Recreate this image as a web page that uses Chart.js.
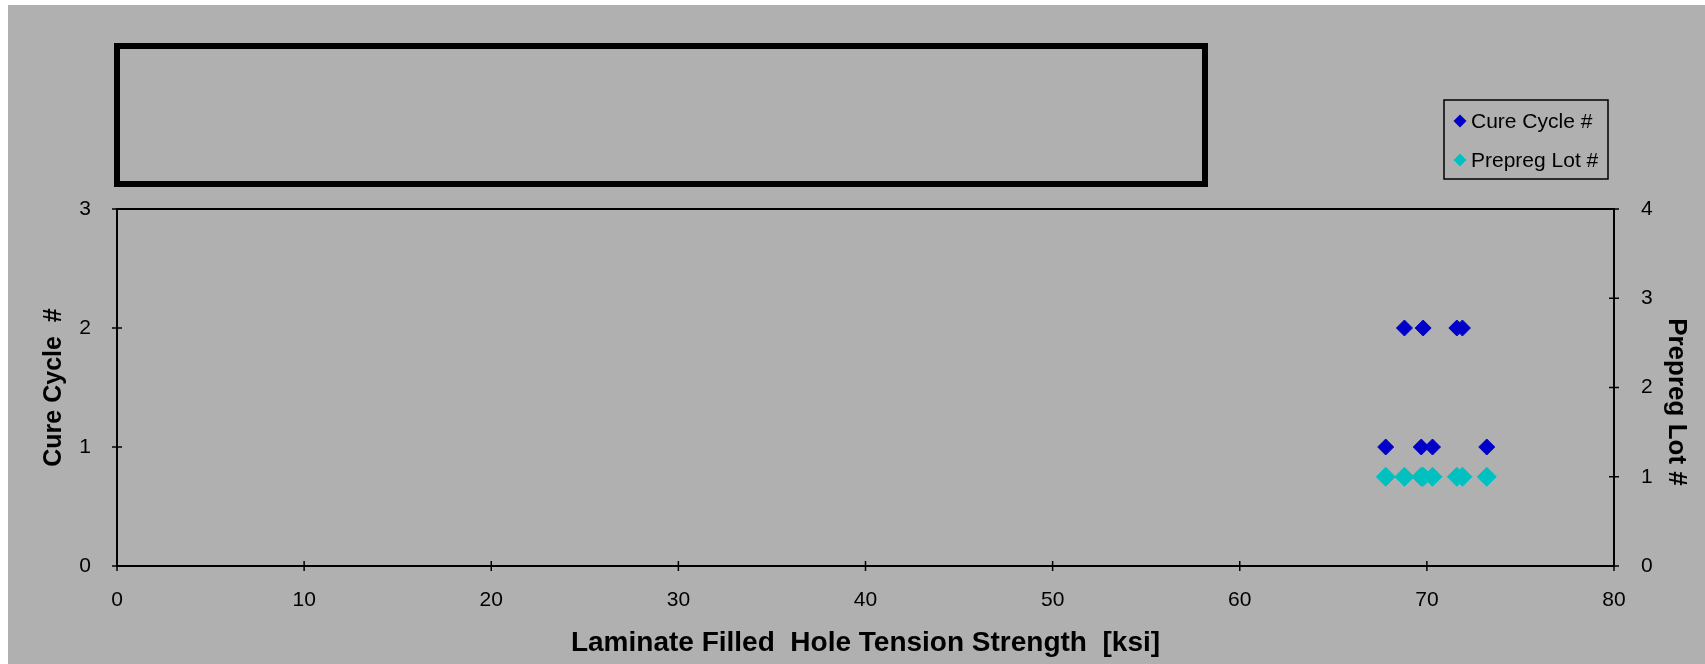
<!DOCTYPE html>
<html>
<head>
<meta charset="utf-8">
<script src="https://cdn.jsdelivr.net/npm/chart.js@4.4.1/dist/chart.umd.min.js"></script>
<style>
  html, body { margin: 0; padding: 0; background: #ffffff; }
  #wrap { position: absolute; left: 8px; top: 5px; width: 1697px; height: 659px; background: #b0b0b0; }
</style>
</head>
<body>
<div id="wrap"><canvas id="chart" width="1697" height="659"></canvas></div>
<script>
// values
const strength = [67.8, 68.8, 69.7, 69.8, 70.3, 71.6, 71.9, 73.2];
const cureCycle = [1, 2, 1, 2, 1, 2, 2, 1];
const prepregLot = [1, 1, 1, 1, 1, 1, 1, 1];
const xTicks = [0, 10, 20, 30, 40, 50, 60, 70, 80];
const cureTicks = [0, 1, 2, 3];
const lotTicks = [0, 1, 2, 3, 4];

const FONT = 'Arial, "Liberation Sans", sans-serif';
const BLUE = '#0000c8';
const TEAL = '#00c0c0';

const toPoints = (xs, ys) => xs.map((x, i) => ({ x: x, y: ys[i] }));

// empty title frame, legend, top border and cross ticks
const decor = {
  id: 'decor',
  afterDraw(chart) {
    const ctx = chart.ctx;
    const area = chart.chartArea;
    const { x, y, y2 } = chart.scales;
    ctx.save();
    ctx.strokeStyle = '#000';

    // title frame
    ctx.lineWidth = 6;
    ctx.strokeRect(109, 41, 1088, 138);

    // top border of plot area
    ctx.lineWidth = 2;
    ctx.beginPath();
    ctx.moveTo(area.left, area.top);
    ctx.lineTo(area.right, area.top);
    ctx.stroke();

    // ticks crossing the axes
    ctx.lineWidth = 1.5;
    ctx.beginPath();
    xTicks.forEach(v => {
      const px = x.getPixelForValue(v);
      ctx.moveTo(px, area.bottom - 5);
      ctx.lineTo(px, area.bottom + 5);
    });
    cureTicks.forEach(v => {
      const py = y.getPixelForValue(v);
      ctx.moveTo(area.left - 5, py);
      ctx.lineTo(area.left + 5, py);
    });
    lotTicks.forEach(v => {
      const py = y2.getPixelForValue(v);
      ctx.moveTo(area.right - 5, py);
      ctx.lineTo(area.right + 5, py);
    });
    ctx.stroke();

    // legend
    ctx.lineWidth = 1.5;
    ctx.strokeRect(1436, 95, 164, 79);
    ctx.font = '21px ' + FONT;
    ctx.textBaseline = 'middle';
    chart.data.datasets.forEach((ds, i) => {
      const cy = 116 + i * 39;
      ctx.fillStyle = ds.backgroundColor;
      ctx.beginPath();
      ctx.moveTo(1452 - 6.5, cy);
      ctx.lineTo(1452, cy - 6.5);
      ctx.lineTo(1452 + 6.5, cy);
      ctx.lineTo(1452, cy + 6.5);
      ctx.closePath();
      ctx.fill();
      ctx.fillStyle = '#000';
      ctx.fillText(ds.label, 1463, cy + 1);
    });
    ctx.restore();
  }
};

new Chart(document.getElementById('chart'), {
  type: 'scatter',
  data: {
    datasets: [
      {
        label: 'Cure Cycle #',
        data: toPoints(strength, cureCycle),
        yAxisID: 'y',
        pointStyle: 'rectRot',
        pointRadius: 8,
        borderWidth: 1,
        backgroundColor: BLUE,
        borderColor: BLUE
      },
      {
        label: 'Prepreg Lot #',
        data: toPoints(strength, prepregLot),
        yAxisID: 'y2',
        pointStyle: 'rectRot',
        pointRadius: 9.5,
        borderWidth: 1,
        backgroundColor: TEAL,
        borderColor: TEAL
      }
    ]
  },
  options: {
    responsive: false,
    animation: false,
    layout: { padding: { top: 204, left: 0, right: 0, bottom: 0 } },
    plugins: { legend: { display: false }, tooltip: { enabled: false } },
    scales: {
      x: {
        type: 'linear',
        min: 0,
        max: 80,
        afterBuildTicks: s => { s.ticks = xTicks.map(v => ({ value: v })); },
        afterFit: s => { s.height = 98; },
        grid: { display: false },
        border: { display: true, color: '#000', width: 2 },
        ticks: { color: '#000', padding: 14, font: { family: FONT, size: 21 } },
        title: {
          display: true,
          text: 'Laminate Filled  Hole Tension Strength  [ksi]',
          color: '#000',
          padding: { top: 0, bottom: 4 },
          font: { family: FONT, size: 28, weight: 'bold' }
        }
      },
      y: {
        type: 'linear',
        position: 'left',
        min: 0,
        max: 3,
        afterBuildTicks: s => { s.ticks = cureTicks.map(v => ({ value: v })); },
        afterFit: s => { s.width = 109; },
        grid: { display: false },
        border: { display: true, color: '#000', width: 2 },
        ticks: { color: '#000', padding: 18, font: { family: FONT, size: 21 } },
        title: {
          display: true,
          text: 'Cure Cycle  #',
          color: '#000',
          padding: { top: 31, bottom: 0 },
          font: { family: FONT, size: 25, weight: 'bold' }
        }
      },
      y2: {
        type: 'linear',
        position: 'right',
        min: 0,
        max: 4,
        afterBuildTicks: s => { s.ticks = lotTicks.map(v => ({ value: v })); },
        afterFit: s => { s.width = 91; },
        grid: { display: false },
        border: { display: true, color: '#000', width: 2 },
        ticks: { color: '#000', padding: 19, font: { family: FONT, size: 21 } },
        title: {
          display: true,
          text: '    Prepreg Lot #',
          color: '#000',
          padding: { top: 13, bottom: 0 },
          font: { family: FONT, size: 26, weight: 'bold' }
        }
      }
    }
  },
  plugins: [decor]
});
</script>
</body>
</html>
